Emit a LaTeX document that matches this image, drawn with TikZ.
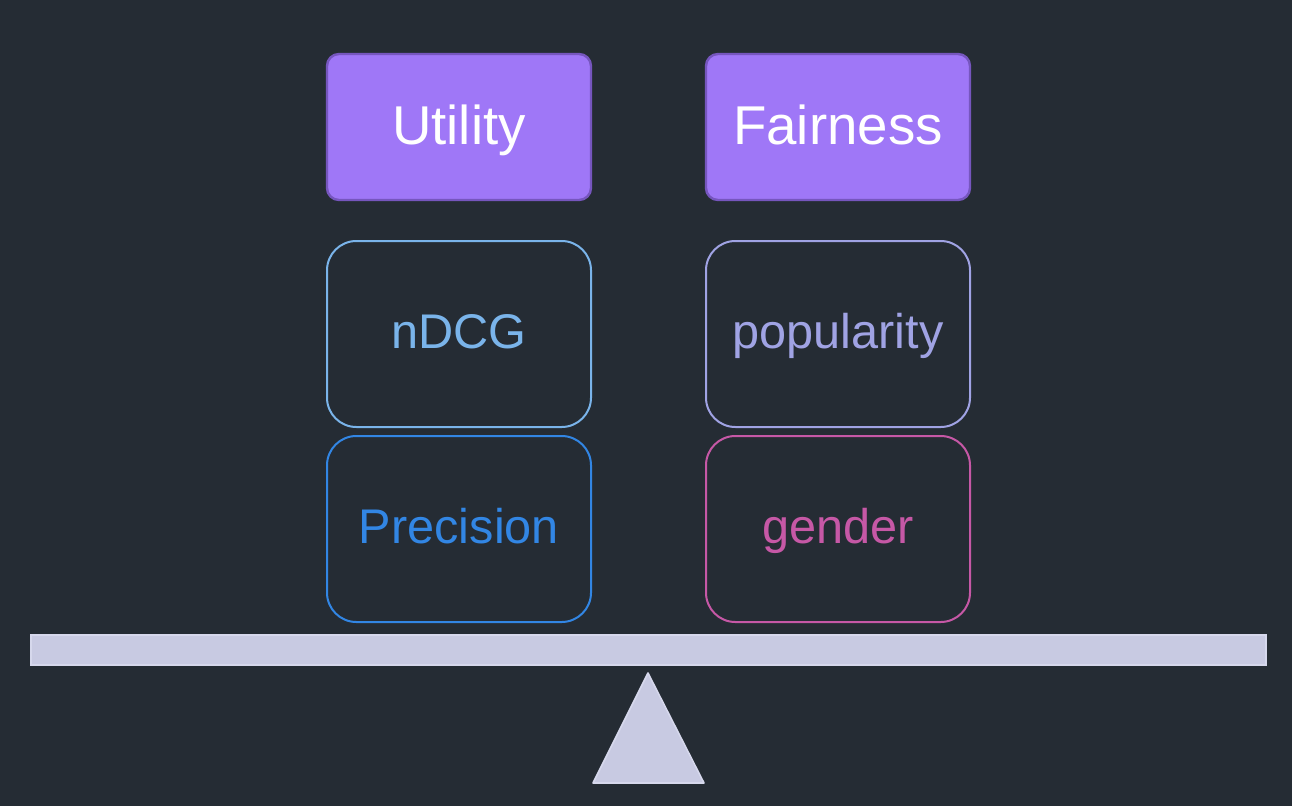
\documentclass[tikz,border=0pt]{standalone}
\usepackage{fontspec}
\setmainfont{Liberation Sans}
\definecolor{bg}{RGB}{37,44,52}
\definecolor{purfill}{RGB}{159,119,247}
\definecolor{purdraw}{RGB}{118,86,190}
\definecolor{cndcg}{RGB}{122,180,234}
\definecolor{cprec}{RGB}{50,134,228}
\definecolor{cpop}{RGB}{160,163,228}
\definecolor{cgen}{RGB}{198,88,166}
\definecolor{beam}{RGB}{200,202,226}
\definecolor{beamedge}{RGB}{214,216,236}
\begin{document}
\begin{tikzpicture}[x=0.75pt,y=-0.75pt,
  titlebox/.style={draw=purdraw,line width=1.8pt,fill=purfill,rounded corners=9pt,text=white,
    minimum width=198pt,minimum height=109.5pt,inner sep=0pt,text height=32pt,text depth=5pt,
    font=\fontsize{41}{48}\selectfont},
  metricbox/.style={line width=1.5pt,rounded corners=22pt,
    minimum width=198pt,minimum height=139.5pt,inner sep=0pt,text height=28pt,text depth=7pt,
    font=\fontsize{36.5}{42}\selectfont}]
\fill[bg] (0,0) rectangle (1292,806);
\useasboundingbox (0,0) rectangle (1292,806);
\node[titlebox] (util) at (459,127) {Utility};
\node[titlebox] (fair) at (838,127) {Fairness};
\node[metricbox,draw=cndcg,text=cndcg] (ndcg) at (459,334) {nDCG};
\node[metricbox,draw=cprec,text=cprec] (prec) at (459,529) {Precision};
\node[metricbox,draw=cpop,text=cpop] (pop) at (838,334) {popularity};
\node[metricbox,draw=cgen,text=cgen] (gen) at (838,529) {gender};
\draw[fill=beam,draw=beamedge,line width=1.2pt] (31,635) rectangle (1266,665);
\draw[fill=beam,draw=beamedge,line width=1.2pt,line join=round] (648,673) -- (704,783) -- (593,783) -- cycle;
\end{tikzpicture}
\end{document}
